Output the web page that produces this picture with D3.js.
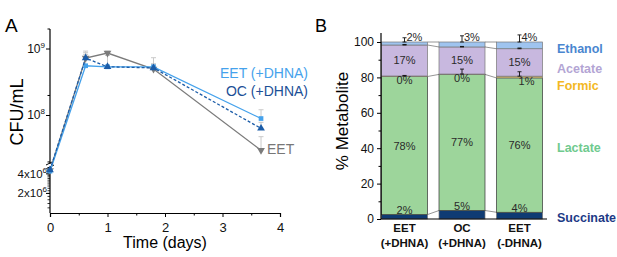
<!DOCTYPE html>
<html>
<head>
<meta charset="utf-8">
<script src="https://cdn.jsdelivr.net/npm/d3@7"></script>
<style>
  body { margin: 0; background: #fff; }
  svg { font-family: "Liberation Sans", Arial, sans-serif; }
</style>
</head>
<body>
<svg id="chart" width="617" height="257"></svg>
<script>
// ---- panel A data (CFU/mL over time) ----
var days = [0, 0.62, 1, 1.8, 3.67];
var eet = [4.5e6, 7.3e8, 8.7e8, 5.0e8, 3.0e7];
var eetErr = [0.2e6, 1.5e8, 0.6e8, 1.0e8, 1.8e7];
var eetDhna = [4.4e6, 5.6e8, 5.4e8, 5.4e8, 9.0e7];
var eetDhnaErr = [0.2e6, 3.7e8, 0.3e8, 2.0e8, 3.2e7];
var ocDhna = [4.6e6, 7.3e8, 5.4e8, 5.2e8, 6.4e7];
var ocDhnaErr = [0.2e6, 1.0e8, 2.6e8, 0.6e8, 1.5e7];

// ---- panel B data (% metabolite, stacked bottom->top) ----
var conditions = [["EET", "(+DHNA)"], ["OC", "(+DHNA)"], ["EET", "(-DHNA)"]];
var layers = ["Succinate", "Lactate", "Formic", "Acetate", "Ethanol"];
var succinate = [2.5, 4.8, 3.8];
var lactate = [78.0, 76.9, 75.9];
var formic = [0.3, 0.2, 1.0];
var acetate = [17.5, 15.3, 15.5];
var ethanol = [1.7, 2.8, 3.8];
var formicErr = [0.3, 2.8, 2.5];
var acetateErr = [0.3, 0.3, 0.4];
var ethanolErr = [2.4, 3.5, 4.0];
var succLabels = ["2%", "5%", "4%"];
var lactLabels = ["78%", "77%", "76%"];
var formLabels = ["0%", "0%", "1%"];
var acetLabels = ["17%", "15%", "15%"];
var ethLabels = ["2%", "3%", "4%"];

var svg = d3.select("#chart");

// ================= panel A =================
var xA = d3.scaleLinear().domain([0, 4]).range([50, 280]);
var breakVal = 5.1e6;
var yUp = d3.scaleLog().domain([1.8e7, 2e9]).range([165, 29]);
var yLo = d3.scaleLog().domain([1e6, breakVal]).range([213, 167]);
function yA(v) { return v < breakVal ? yLo(v) : yUp(v); }

var gA = svg.append("g");

// axes
var xAxisA = d3.axisBottom(xA).tickValues([0, 1, 2, 3, 4]).tickSize(4).tickFormat(d3.format("d"));
gA.append("g")
    .attr("transform", "translate(0,213)")
    .call(d3.axisBottom(xA).tickValues([0.5, 1.5, 2.5, 3.5]).tickSize(2.5).tickFormat(""))
    .call(function (g) { g.select(".domain").remove(); });
gA.append("g")
    .attr("transform", "translate(0,213)")
    .call(xAxisA)
    .call(function (g) {
        g.select(".domain").attr("stroke-width", 1.2);
        g.selectAll("text").attr("font-size", 13).attr("fill", "#111").attr("dy", "0.9em");
    });

// y axis line with break
gA.append("line").attr("x1", 50).attr("x2", 50).attr("y1", 29).attr("y2", 164)
    .attr("stroke", "#000").attr("stroke-width", 1.2);
gA.append("line").attr("x1", 50).attr("x2", 50).attr("y1", 168).attr("y2", 213)
    .attr("stroke", "#000").attr("stroke-width", 1.2);
[163, 167].forEach(function (b) {
    gA.append("line").attr("x1", 46).attr("x2", 54).attr("y1", b + 2).attr("y2", b - 2)
        .attr("stroke", "#000").attr("stroke-width", 1);
});

var upMajor = [1e8, 1e9];
var upMinor = [2e7, 2e8, 2e9];
var loMajor = [2e6, 4e6];
var loMinor = d3.range(1.2e6, 5.01e6, 0.2e6);

gA.selectAll(".upmin").data(upMinor).enter().append("line")
    .attr("x1", 47.5).attr("x2", 50).attr("y1", yUp).attr("y2", yUp)
    .attr("stroke", "#000");
gA.selectAll(".lomin").data(loMinor).enter().append("line")
    .attr("x1", 47.5).attr("x2", 50).attr("y1", yLo).attr("y2", yLo)
    .attr("stroke", "#000").attr("stroke-width", 0.8);
gA.selectAll(".upmaj").data(upMajor).enter().append("line")
    .attr("x1", 46).attr("x2", 50).attr("y1", yUp).attr("y2", yUp)
    .attr("stroke", "#000");
gA.selectAll(".lomaj").data(loMajor).enter().append("line")
    .attr("x1", 46).attr("x2", 50).attr("y1", yLo).attr("y2", yLo)
    .attr("stroke", "#000");

function powLabel(sel, pre, exp) {
    sel.append("tspan").text(pre + "10");
    sel.append("tspan").attr("font-size", 8).attr("dy", -5).text(exp);
}
upMajor.forEach(function (v) {
    var t = gA.append("text").attr("x", 45).attr("y", yUp(v) + 4)
        .attr("text-anchor", "end").attr("font-size", 12).attr("fill", "#111");
    powLabel(t, "", String(Math.round(Math.log10(v))));
});
loMajor.forEach(function (v) {
    var t = gA.append("text").attr("x", 47).attr("y", yLo(v) + 4)
        .attr("text-anchor", "end").attr("font-size", 11.5).attr("fill", "#111");
    powLabel(t, (v / 1e6) + "x", "6");
});

// series
var seriesA = [
    {name: "EET", vals: eet, err: eetErr, color: "#7b7b7b", dash: null, shape: "down"},
    {name: "EET (+DHNA)", vals: eetDhna, err: eetDhnaErr, color: "#45a2ec", dash: null, shape: "square"},
    {name: "OC (+DHNA)", vals: ocDhna, err: ocDhnaErr, color: "#1b5ca8", dash: "3,2", shape: "up"}
];

// error bars first (light gray, plus side)
seriesA.forEach(function (s) {
    var eg = gA.append("g").attr("stroke", "#c9c9c9").attr("stroke-width", 1);
    days.forEach(function (t, i) {
        if (i === 0) return;
        var cx = xA(t), yTop = yA(s.vals[i] + s.err[i]), yBot = yA(s.vals[i]);
        eg.append("line").attr("x1", cx).attr("x2", cx).attr("y1", yTop).attr("y2", yBot);
        eg.append("line").attr("x1", cx - 2.5).attr("x2", cx + 2.5).attr("y1", yTop).attr("y2", yTop);
    });
});

var lineA = d3.line()
    .x(function (d) { return xA(d[0]); })
    .y(function (d) { return yA(d[1]); });

seriesA.forEach(function (s) {
    var pts = days.map(function (t, i) { return [t, s.vals[i]]; });
    gA.append("path").datum(pts)
        .attr("d", lineA)
        .attr("fill", "none")
        .attr("stroke", s.color)
        .attr("stroke-width", 1.3)
        .attr("stroke-dasharray", s.dash);
    var sym = s.shape === "square" ? d3.symbolSquare : d3.symbolTriangle;
    gA.selectAll(null).data(pts).enter().append("path")
        .attr("d", d3.symbol().type(sym).size(s.shape === "square" ? 22 : 26))
        .attr("transform", function (d) {
            return "translate(" + xA(d[0]) + "," + yA(d[1]) + ")" + (s.shape === "down" ? " rotate(180)" : "");
        })
        .attr("fill", s.color);
});

// labels panel A
gA.append("text").attr("x", 308).attr("y", 77.5).attr("text-anchor", "end")
    .attr("font-size", 14).attr("fill", "#45a2ec").text("EET (+DHNA)");
gA.append("text").attr("x", 308).attr("y", 96).attr("text-anchor", "end")
    .attr("font-size", 14).attr("fill", "#1b4f96").text("OC (+DHNA)");
gA.append("text").attr("x", 267).attr("y", 154)
    .attr("font-size", 14).attr("fill", "#777").text("EET");

gA.append("text").attr("x", 5).attr("y", 32).attr("font-size", 19).text("A");
gA.append("text").attr("transform", "translate(23,112) rotate(-90)")
    .attr("text-anchor", "middle").attr("font-size", 18).text("CFU/mL");
gA.append("text").attr("x", 165).attr("y", 248).attr("text-anchor", "middle")
    .attr("font-size", 16).text("Time (days)");

// ================= panel B =================
var gB = svg.append("g");
var xB = d3.scaleBand().domain(d3.range(3)).range([381.5, 542.5]).paddingInner(0.2).paddingOuter(0);
var yB = d3.scaleLinear().domain([0, 100]).range([219, 42]);

var layerVals = [succinate, lactate, formic, acetate, ethanol];
var layerFill = ["#0f3b73", "#9dd59b", "#e2bd55", "#c8b8df", "#9fc4ef"];

var rows = d3.range(3).map(function (i) {
    var r = {i: i};
    layers.forEach(function (k, j) { r[k] = layerVals[j][i]; });
    return r;
});
var stacked = d3.stack().keys(layers)(rows);

// connector lines between bars at each boundary
stacked.forEach(function (layer) {
    for (var i = 0; i < 2; i++) {
        if (layer.key === "Formic") continue;
        gB.append("line")
            .attr("x1", xB(i) + xB.bandwidth()).attr("x2", xB(i + 1))
            .attr("y1", yB(layer[i][1])).attr("y2", yB(layer[i + 1][1]))
            .attr("stroke", "#8a8a8a").attr("stroke-width", 0.9);
    }
});

stacked.forEach(function (layer, j) {
    gB.selectAll(null).data(layer).enter().append("rect")
        .attr("x", function (d, i) { return xB(i); })
        .attr("width", xB.bandwidth())
        .attr("y", function (d) { return yB(d[1]); })
        .attr("height", function (d) { return yB(d[0]) - yB(d[1]); })
        .attr("fill", layerFill[j])
        .attr("stroke", j === 1 ? "#333" : "#777")
        .attr("stroke-width", 0.7);
});

// error bars (plus only, on cumulative tops)
var errSets = [[2, formicErr], [3, acetateErr], [4, ethanolErr]];
errSets.forEach(function (es) {
    var layer = stacked[es[0]];
    layer.forEach(function (d, i) {
        var cx = xB(i) + xB.bandwidth() / 2;
        var y0 = yB(d[1]), y1 = yB(d[1] + es[1][i]);
        gB.append("line").attr("x1", cx).attr("x2", cx).attr("y1", y0).attr("y2", y1)
            .attr("stroke", "#111").attr("stroke-width", 0.9);
        [y0, y1].forEach(function (yy) {
            gB.append("line").attr("x1", cx - 2).attr("x2", cx + 2).attr("y1", yy).attr("y2", yy)
                .attr("stroke", "#111").attr("stroke-width", 0.9);
        });
    });
});

// percent labels
function pct(x, y, t, anchor) {
    gB.append("text").attr("x", x).attr("y", y).attr("text-anchor", anchor || "middle")
        .attr("font-size", 11).attr("fill", "#2a2a2a").text(t);
}
d3.range(3).forEach(function (i) {
    var cx = xB(i) + xB.bandwidth() / 2;
    pct(cx, yB(stacked[0][i][1]) - 0.5, succLabels[i]);
    pct(cx, (yB(stacked[1][i][0]) + yB(stacked[1][i][1])) / 2 + 4, lactLabels[i]);
    pct(cx + (i === 2 ? 7 : 0), yB(stacked[1][i][1]) + 7.5, formLabels[i]);
    pct(cx, (yB(stacked[3][i][0]) + yB(stacked[3][i][1])) / 2 + 4, acetLabels[i]);
    pct(cx + 2, yB(100) - 1, ethLabels[i], "start");
});

// axes B
gB.append("g")
    .attr("transform", "translate(381,0)")
    .call(d3.axisLeft(yB).tickValues(d3.range(10, 100, 20)).tickSize(2.5).tickFormat(""))
    .call(function (g) { g.select(".domain").remove(); });
gB.append("g")
    .attr("transform", "translate(381,0)")
    .call(d3.axisLeft(yB).tickValues(d3.range(0, 101, 20)).tickSize(4).tickSizeOuter(0))
    .call(function (g) {
        g.select(".domain").attr("d", "M0,33V219").attr("stroke-width", 1.2);
        g.selectAll("text").attr("font-size", 12).attr("fill", "#111");
    });
gB.append("line").attr("x1", 381).attr("x2", 547).attr("y1", 219).attr("y2", 219)
    .attr("stroke", "#000").attr("stroke-width", 1.2);

conditions.forEach(function (c, i) {
    var cx = xB(i) + xB.bandwidth() / 2;
    var t = gB.append("text").attr("text-anchor", "middle").attr("font-size", 11.5)
        .attr("font-weight", "bold").attr("fill", "#111");
    t.append("tspan").attr("x", cx).attr("y", 232).text(c[0]);
    t.append("tspan").attr("x", cx).attr("y", 247).text(c[1]);
});

// legend names
var legB = [
    {t: "Ethanol", y: 53, c: "#4a86d0"},
    {t: "Acetate", y: 73, c: "#b3a5d4"},
    {t: "Formic", y: 90, c: "#f3b823"},
    {t: "Lactate", y: 152, c: "#6fca8e"},
    {t: "Succinate", y: 222, c: "#1d3a86"}
];
gB.selectAll(null).data(legB).enter().append("text")
    .attr("x", 557).attr("y", function (d) { return d.y; })
    .attr("font-size", 12.5).attr("font-weight", "bold")
    .attr("fill", function (d) { return d.c; })
    .text(function (d) { return d.t; });

gB.append("text").attr("x", 315).attr("y", 32).attr("font-size", 18).text("B");
gB.append("text").attr("transform", "translate(348,121) rotate(-90)")
    .attr("text-anchor", "middle").attr("font-size", 17).text("% Metabolite");
</script>
</body>
</html>
